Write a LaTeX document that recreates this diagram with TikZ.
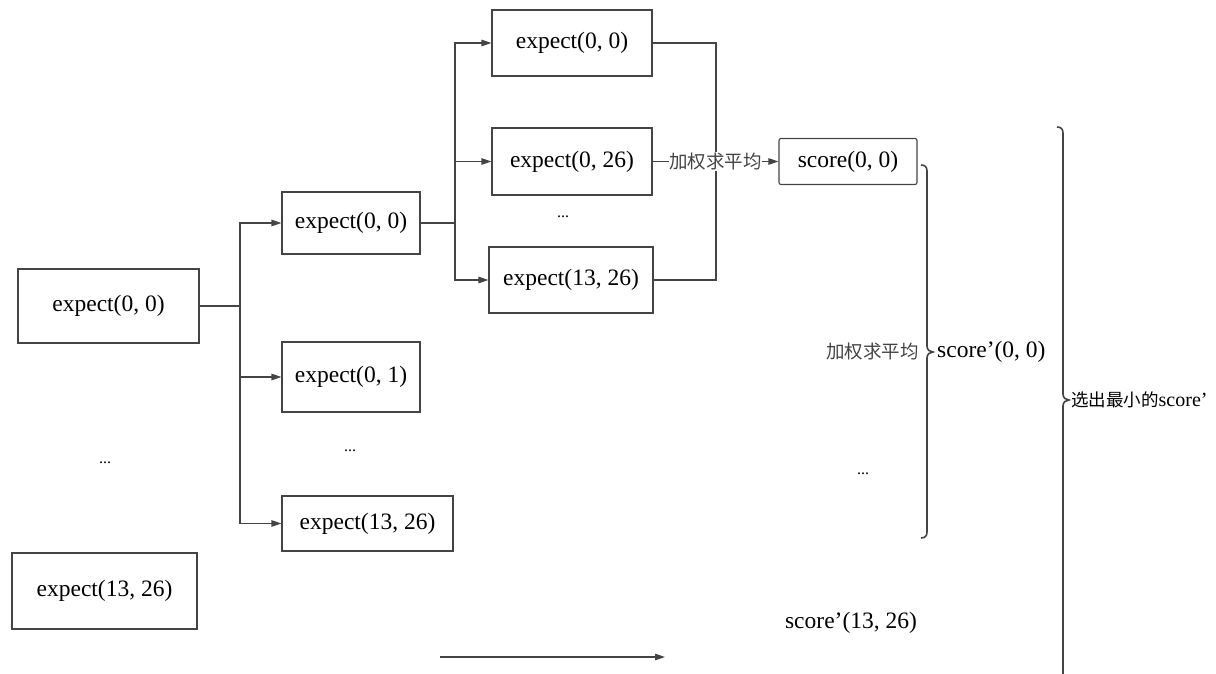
\documentclass[tikz,border=0pt]{standalone}
\usepackage{fontspec}
\setmainfont{Liberation Serif}
\newfontfamily\cjk{Noto Sans CJK SC}
\usetikzlibrary{arrows.meta}

\definecolor{linegray}{HTML}{444444}

\tikzset{
  box/.style={draw=linegray, line width=1.1pt, inner sep=0pt, anchor=center,
              font=\fontsize{23.5}{28}\selectfont},
  arr/.style={draw=linegray, line width=1.1pt, -{Triangle[length=10pt,width=6.5pt]}},
  wire/.style={draw=linegray, line width=1.1pt},
  bracket/.style={draw=linegray, line width=1.6pt},
  plain/.style={inner sep=0pt, font=\fontsize{23.5}{28}\selectfont},
  dots/.style={inner sep=0pt, font=\fontsize{16}{18}\selectfont},
  cjklabel/.style={inner sep=1pt, font=\cjk\fontsize{18.5}{22}\selectfont, text=linegray}
}

\begin{document}
\begin{tikzpicture}[x=1pt, y=-1pt]
  \useasboundingbox (0,0) rectangle (1216,674);

  % first column
  \node[box, minimum width=181pt, minimum height=74pt] (A)  at (108.5,306) {expect(0, 0)};
  \node[dots] (dA) at (105,463) {...};
  \node[box, minimum width=185pt, minimum height=76pt] (A2) at (104.5,591) {expect(13, 26)};

  % second column
  \node[box, minimum width=138pt, minimum height=62pt] (B1) at (351,223)   {expect(0, 0)};
  \node[box, minimum width=138pt, minimum height=70pt] (B2) at (351,377)   {expect(0, 1)};
  \node[dots] (dB) at (350,451) {...};
  \node[box, minimum width=171pt, minimum height=55pt] (B3) at (367.5,523.5) {expect(13, 26)};

  % third column
  \node[box, minimum width=160pt, minimum height=66pt] (C1) at (572,43)    {expect(0, 0)};
  \node[box, minimum width=160pt, minimum height=67pt] (C2) at (572,161.5) {expect(0, 26)};
  \node[dots] (dC) at (563,217) {...};
  \node[box, minimum width=164pt, minimum height=66pt] (C3) at (571,280)   {expect(13, 26)};

  % score column
  \node[box, rounded corners=2pt, minimum width=138pt, minimum height=46pt] (S) at (848,161.5) {score(0, 0)};
  \node[cjklabel, anchor=east] (w2) at (920,352) {加权求平均};
  \node[plain, anchor=west] (Sp) at (937,352) {score’(0, 0)};
  \node[dots] (dS) at (863,474) {...};
  \node[plain] (Sq) at (851,623) {score’(13, 26)};
  \node[anchor=west, inner sep=0pt] (pick) at (1071,400)
    {{\cjk\fontsize{17.5}{20}\selectfont 选出最小的}{\fontsize{20}{24}\selectfont score’}};

  % fan-out from the first box
  \coordinate (busA) at (240,306);
  \draw[wire] (A.east) -- (busA);
  \draw[arr] (busA) |- (B1.west);
  \draw[arr] (busA) |- (B2.west);
  \draw[arr] (busA) |- (B3.west);

  % fan-out from the second-column box
  \coordinate (busB) at (455,223);
  \draw[wire] (B1.east) -- (busB);
  \draw[arr] (busB) |- (C1.west);
  \draw[arr] (busB) |- (C2.west);
  \draw[arr] (busB) |- (C3.west);

  % collecting line on the right of the third column
  \coordinate (mC) at (716,280);
  \draw[wire] (C1.east) -| (mC) -- (C3.east);
  \draw[arr] (C2.east) -- node[cjklabel, fill=white, inner sep=0.5pt] (w1) {加权求平均} (S.west);

  % braces
  \draw[bracket] (921,165) .. controls (925,165) and (927,167) .. (927,171)
     -- (927,346) .. controls (927,350) and (930,352) .. (933,352)
     .. controls (930,352) and (927,354) .. (927,358)
     -- (927,532) .. controls (927,536) and (925,538) .. (921,538);
  \draw[bracket] (1057,127) .. controls (1061,127) and (1063,129) .. (1063,133)
     -- (1063,394) .. controls (1063,398) and (1066,400) .. (1069,400)
     .. controls (1066,400) and (1063,402) .. (1063,406)
     -- (1063,674) .. controls (1063,678) and (1061,680) .. (1057,680);

  % lone arrow at the bottom
  \coordinate (p) at (440,657);
  \coordinate (q) at (665,657);
  \draw[arr] (p) -- (q);
\end{tikzpicture}
\end{document}
